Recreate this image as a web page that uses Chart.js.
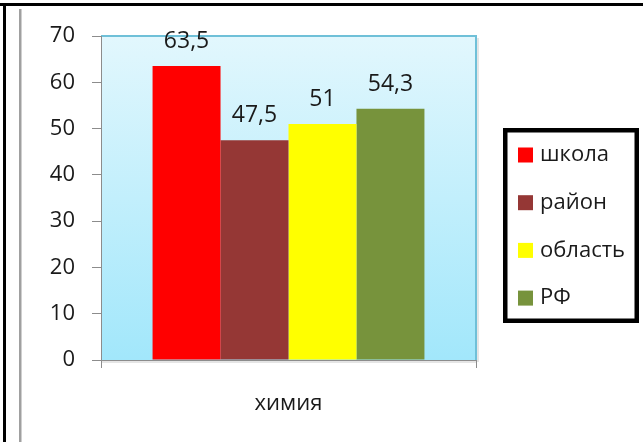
<!DOCTYPE html>
<html>
<head>
<meta charset="utf-8">
<script src="https://cdn.jsdelivr.net/npm/chart.js@4.4.0/dist/chart.umd.min.js"></script>
<style>
body { margin: 0; background: #fff; }
#wrap { position: relative; width: 643px; height: 442px; }
</style>
</head>
<body>
<div id="wrap"><canvas id="chem-chart" width="643" height="442"></canvas></div>
<script>
// data
const categories = ["химия"];
const seriesNames = ["школа", "район", "область", "РФ"];
const seriesValues = [[63.5], [47.5], [51], [54.3]];
const seriesColors = ["#FF0000", "#953735", "#FFFF00", "#77933C"];
const yMin = 0, yMax = 70, yStep = 10;

const FONT = "'Open Sans', sans-serif";

// white page + the frame lines at top / left
const framePlugin = {
  id: "frame",
  beforeDraw(chart) {
    const c = chart.ctx;
    const a = chart.chartArea;
    c.save();
    c.fillStyle = "#fff";
    c.fillRect(0, 0, chart.width, chart.height);
    c.fillStyle = "#000";
    c.fillRect(0, 3, chart.width, 3);
    c.fillRect(3, 3, 3, chart.height);
    c.fillStyle = "#a0a0a0";
    c.fillRect(19, 9, 2.5, chart.height - 9);
    // plot area gradient
    const g = c.createLinearGradient(0, a.top, 0, a.bottom);
    g.addColorStop(0, "#E2F7FD");
    g.addColorStop(1, "#A2E7FB");
    c.fillStyle = g;
    c.fillRect(a.left, a.top, a.right - a.left, a.bottom - a.top);
    // soft shadow under the x axis and right of the plot
    c.fillStyle = "rgba(0,0,0,0.10)";
    c.fillRect(a.left, a.bottom + 1, a.right - a.left, 2);
    c.fillRect(a.right + 1, a.top + 2, 2, a.bottom - a.top);
    // top / right border
    c.strokeStyle = "#6FC0D8";
    c.lineWidth = 2;
    c.beginPath();
    c.moveTo(a.left, a.top);
    c.lineTo(a.right, a.top);
    c.lineTo(a.right, a.bottom);
    c.stroke();
    c.restore();
  }
};

// values above the bars, with a comma
const valueLabels = {
  id: "valueLabels",
  afterDatasetsDraw(chart) {
    const c = chart.ctx;
    c.save();
    c.font = "23px " + FONT;
    c.fillStyle = "#1a1a1a";
    c.textAlign = "center";
    c.textBaseline = "alphabetic";
    chart.data.datasets.forEach((ds, i) => {
      chart.getDatasetMeta(i).data.forEach((bar, j) => {
        const txt = String(ds.data[j]).replace(".", ",");
        c.fillText(txt, bar.x, bar.y - 18);
      });
    });
    c.restore();
  }
};

// boxed legend on the right
const boxLegend = {
  id: "boxLegend",
  afterDraw(chart) {
    const c = chart.ctx;
    const bx = 503, by = 128, bw = 136, bh = 195;
    c.save();
    c.strokeStyle = "#000";
    c.lineWidth = 4.5;
    c.strokeRect(bx + 2.25, by + 2.25, bw - 4.5, bh - 4.5);
    c.font = "22px " + FONT;
    c.textBaseline = "middle";
    c.textAlign = "left";
    chart.data.datasets.forEach((ds, i) => {
      const y = 155 + i * 47.7;
      c.fillStyle = ds.backgroundColor;
      c.fillRect(518, y - 7.5, 15, 15);
      c.fillStyle = "#1a1a1a";
      c.fillText(ds.label, 540, y);
    });
    c.restore();
  }
};

const datasets = seriesNames.map((name, i) => ({
  label: name,
  data: seriesValues[i],
  backgroundColor: seriesColors[i],
  borderWidth: 0,
  categoryPercentage: 0.725,
  barPercentage: 1.0
}));

const ctx = document.getElementById("chem-chart").getContext("2d");
const chart = new Chart(ctx, {
  type: "bar",
  data: { labels: categories, datasets: datasets },
  options: {
    responsive: false,
    animation: false,
    layout: { padding: { left: 0, top: 36, right: 167, bottom: 0 } },
    plugins: {
      legend: { display: false },
      tooltip: { enabled: false }
    },
    scales: {
      x: {
        offset: true,
        grid: { offset: true, drawOnChartArea: false, drawTicks: true, tickLength: 8, color: "#8c8c8c" },
        border: { color: "#8c8c8c", width: 1 },
        ticks: { font: { family: FONT, size: 22 }, color: "#1a1a1a", padding: 23 },
        afterFit(scale) { scale.height = 82; }
      },
      y: {
        min: yMin,
        max: yMax,
        ticks: { stepSize: yStep, font: { family: FONT, size: 22 }, color: "#1a1a1a", padding: 17 },
        grid: { drawOnChartArea: false, drawTicks: true, tickLength: 9, color: "#8c8c8c" },
        border: { color: "#8c8c8c", width: 1 },
        afterFit(scale) { scale.width = 101; }
      }
    }
  },
  plugins: [framePlugin, valueLabels, boxLegend]
});
</script>
</body>
</html>
